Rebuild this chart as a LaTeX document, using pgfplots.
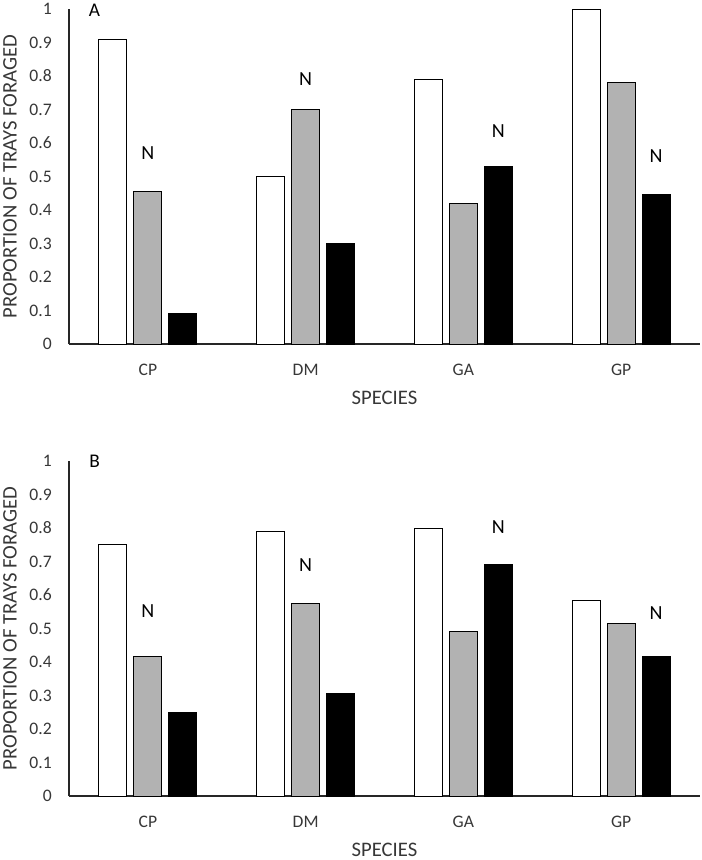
\documentclass[border=0pt]{standalone}
\usepackage{fontspec}
\setmainfont{Carlito}
\usepackage{pgfplots}
\pgfplotsset{compat=1.18}
\definecolor{barGray}{RGB}{178,178,178}
\definecolor{txt}{RGB}{55,55,55}
\tikzset{nlab/.style={font=\fontsize{15}{18}\selectfont, inner sep=0pt, anchor=center}}
\pgfplotsset{
  panel/.style={
    scale only axis, width=473.25pt, height=251.25pt,
    xmin=-0.5, xmax=3.5, ymin=0, ymax=1,
    axis x line=bottom, axis y line=left,
    axis line style={-, line width=0.9pt, black!85},
    xtick={0,1,2,3}, xticklabels={CP,DM,GA,GP},
    ytick={0,0.1,0.2,0.3,0.4,0.5,0.6,0.7,0.8,0.9,1},
    major tick length=0pt,
    xtick style={draw=none}, ytick style={draw=none},
    tick label style={font=\fontsize{13.2}{15}\selectfont, inner sep=0pt, text=txt},
    xticklabel style={anchor=north, yshift=-15pt},
    yticklabel style={anchor=east, xshift=-12.75pt},
    /pgf/number format/.cd, fixed, precision=1, assume math mode=true, /pgfplots/.cd,
    xlabel={SPECIES}, ylabel={PROPORTION OF TRAYS FORAGED},
    label style={font=\fontsize{15.5}{18}\selectfont, inner sep=0pt, text=txt},
    xlabel style={at={(axis description cs:0.5,-0.160)}, anchor=center},
    ylabel style={at={(axis description cs:-0.0935,0.5)}, anchor=center},
    clip=false,
  },
  wbar/.style={ybar, bar width=0.178, bar shift=-0.222, fill=white, draw=black, line width=0.75pt},
  gbar/.style={ybar, bar width=0.178, bar shift=0, fill=barGray, draw=black, line width=0.75pt},
  kbar/.style={ybar, bar width=0.178, bar shift=0.222, fill=black, draw=black, line width=0.75pt},
}
\begin{document}
\begin{tikzpicture}
% Panel A
\begin{axis}[panel, anchor=south west, at={(51.75pt,-258pt)}]
\addplot[wbar] coordinates {(0,0.91) (1,0.50) (2,0.79) (3,1.00)};
\addplot[gbar] coordinates {(0,0.455) (1,0.70) (2,0.42) (3,0.78)};
\addplot[kbar] coordinates {(0,0.09) (1,0.30) (2,0.53) (3,0.445)};
\node[nlab] at (axis cs:0,0.571) {N};
\node[nlab] at (axis cs:1,0.792) {N};
\node[nlab] at (axis cs:2.222,0.635) {N};
\node[nlab] at (axis cs:3.222,0.561) {N};
\node[nlab, font=\fontsize{14.5}{17}\selectfont] at (axis cs:-0.338,0.995) {A};
\end{axis}
% Panel B
\begin{axis}[panel, anchor=south west, at={(51.75pt,-597pt)}]
\addplot[wbar] coordinates {(0,0.75) (1,0.79) (2,0.80) (3,0.585)};
\addplot[gbar] coordinates {(0,0.415) (1,0.575) (2,0.49) (3,0.515)};
\addplot[kbar] coordinates {(0,0.25) (1,0.305) (2,0.69) (3,0.415)};
\node[nlab] at (axis cs:0,0.553) {N};
\node[nlab] at (axis cs:1,0.690) {N};
\node[nlab] at (axis cs:2.222,0.803) {N};
\node[nlab] at (axis cs:3.222,0.547) {N};
\node[nlab, font=\fontsize{14.5}{17}\selectfont] at (axis cs:-0.338,1.0) {B};
\end{axis}
\pgfresetboundingbox
\path[use as bounding box] (0pt,0pt) rectangle (526.5pt,-645pt);
\end{tikzpicture}
\end{document}
